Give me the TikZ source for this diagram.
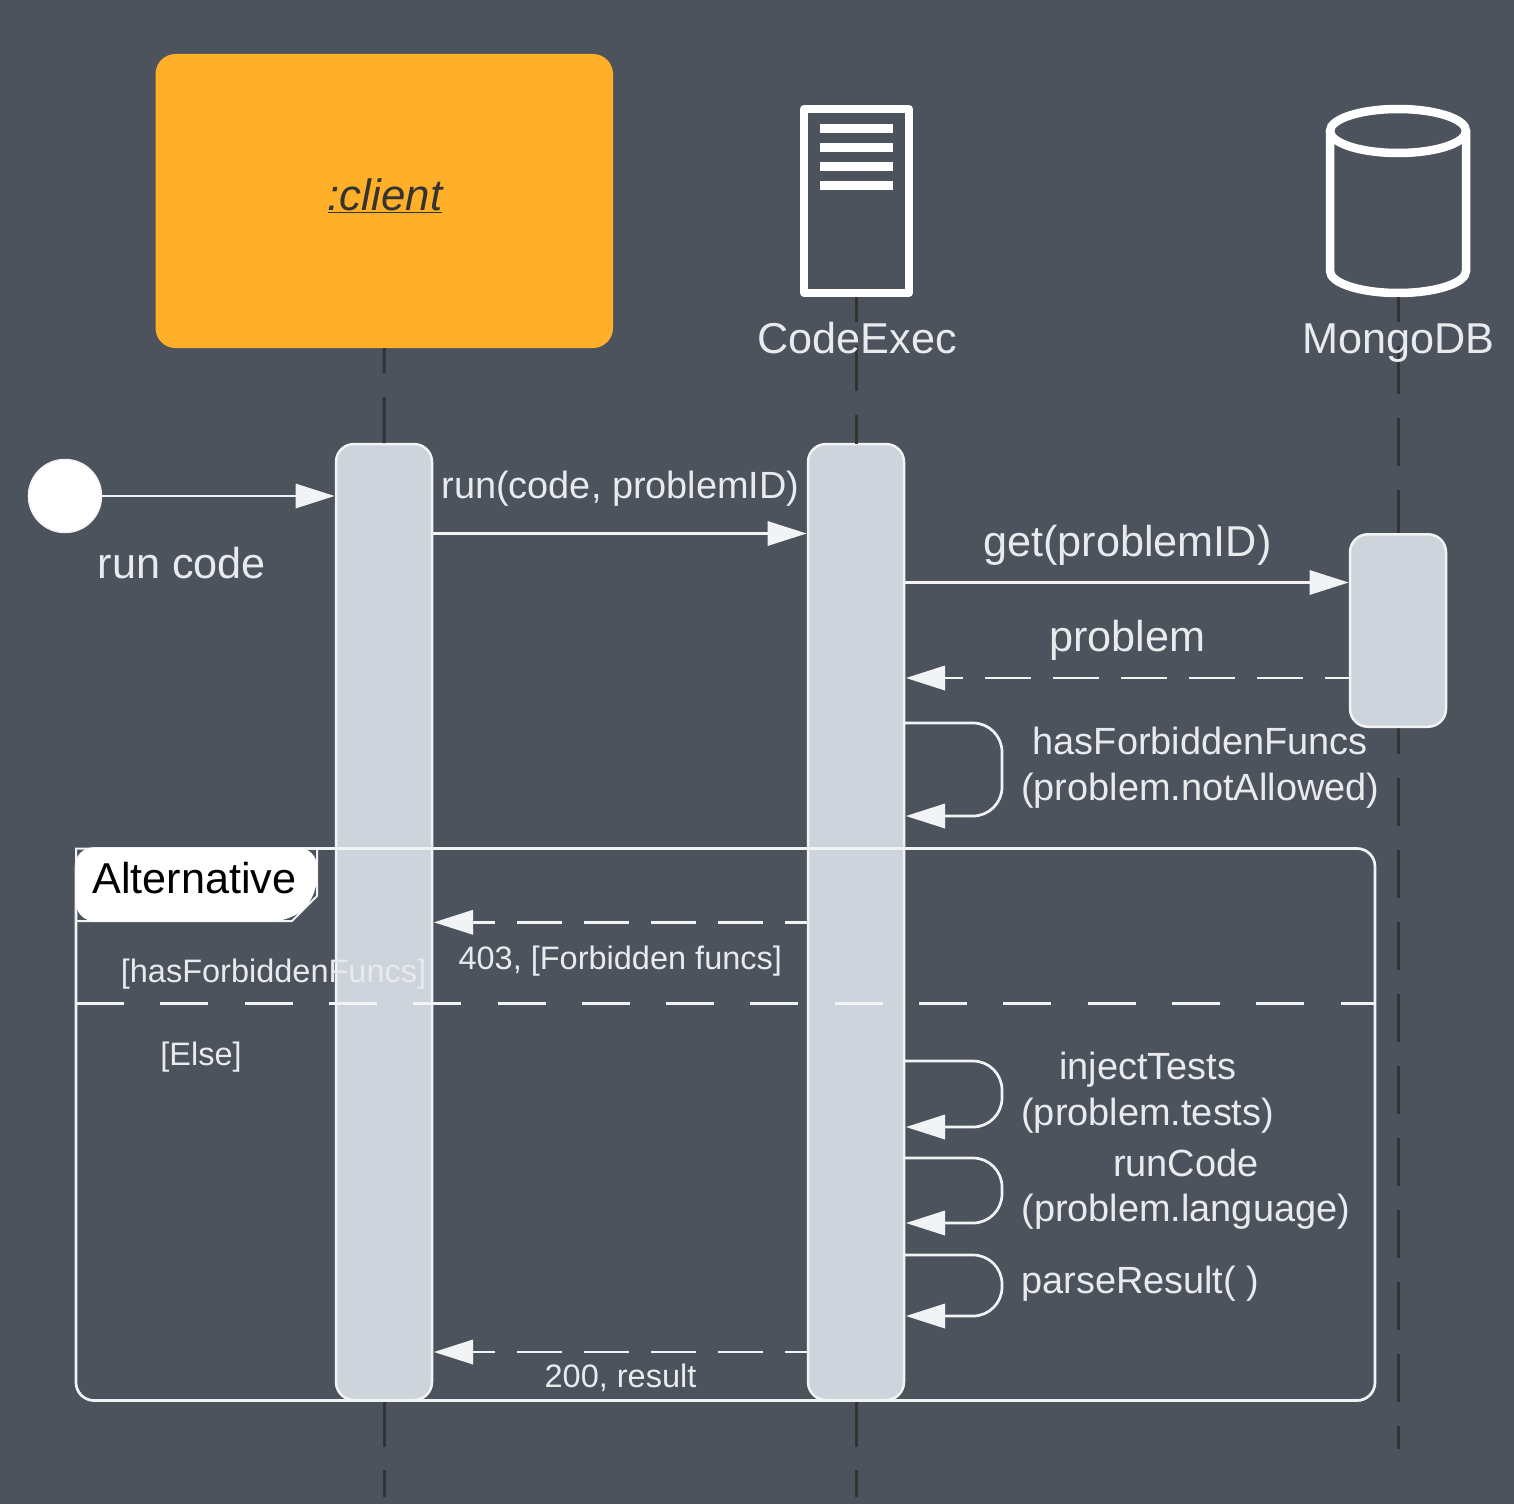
\documentclass[tikz,border=0pt]{standalone}
\usepackage{fontspec}
\setmainfont{Liberation Sans}
\usetikzlibrary{arrows.meta}
\definecolor{bg}{HTML}{4C535D}
\definecolor{orangebox}{HTML}{FFAF28}
\definecolor{actfill}{HTML}{CED4DB}
\definecolor{wireline}{HTML}{F2F3F5}
\definecolor{lifedark}{HTML}{333333}
\definecolor{labeltext}{HTML}{E8EAED}
\tikzset{
  every node/.style={inner sep=0pt,outer sep=0pt},
  actbox/.style={draw=wireline,line width=2.5pt,fill=actfill,rounded corners=18pt,minimum width=96pt},
  lifeline/.style={draw=lifedark,line width=3pt},
  msg/.style={draw=wireline,line width=2.7pt,-{Triangle[length=39pt,width=25pt,line width=0pt]}},
  msgright/.style={msg,shorten >=1.5pt},
  msgleft/.style={msg,shorten >=2pt},
  retmsg/.style={msgleft,dash pattern=on 45pt off 22pt,dash phase=22pt},
  loopmsg/.style={msgleft,rounded corners=29pt},
  icon/.style={draw=white,line width=8pt},
  bar/.style={fill=white,minimum width=73pt,minimum height=9pt},
  big/.style={text=labeltext,anchor=base,font=\fontsize{43.2}{50}\selectfont},
  mid/.style={text=labeltext,anchor=base,font=\fontsize{37.9}{45.5}\selectfont},
  small/.style={text=labeltext,anchor=base,font=\fontsize{32.5}{39}\selectfont},
}
\begin{document}
\begin{tikzpicture}[x=1pt,y=-1pt]
\useasboundingbox (0,0) rectangle (1514,1504);
\fill[bg] (0,0) rectangle (1514,1504);

% heads
\node[fill=orangebox,rounded corners=20pt,minimum width=457.5pt,minimum height=294pt] (client) at (384.25,201) {};
\node[anchor=base,text=lifedark,font=\fontsize{43.8}{50}\selectfont\itshape] (tClient) at (385,210) {\underline{:client}};
\coordinate (srvTL) at (804,109);
\coordinate (srvBR) at (909,293);
\draw[icon,line join=round] (srvTL) rectangle (srvBR);
\node[bar] (bar1) at (856.5,128) {};
\node[bar] (bar2) at (856.5,147.5) {};
\node[bar] (bar3) at (856.5,166.5) {};
\node[bar] (bar4) at (856.5,185.5) {};
\coordinate (codeexecBottom) at (856,297);
\draw[icon,line width=8.5pt] (1398,131) ellipse [x radius=68,y radius=22];
\draw[icon,line width=8.5pt] (1330,131) -- (1330,271) arc [start angle=180,end angle=0,x radius=68,y radius=22] -- (1466,131);
\coordinate (mongoBottom) at (1398,297);

% lifeline of MongoDB runs behind its activation
\coordinate (endC) at (1398,1449);
\draw[lifeline,dash pattern=on 48pt off 24pt,dash phase=23pt] (mongoBottom) -- (endC);

% activations
\node[actbox,minimum height=956pt] (actA) at (384,922) {};
\node[actbox,minimum height=956pt] (actB) at (856,922) {};
\node[actbox,minimum height=192.5pt] (actC) at (1398,630.5) {};

% lifelines
\coordinate (endA) at (384,1497);
\coordinate (endB) at (856,1497);
\draw[lifeline,dash pattern=on 46pt off 24pt,dash phase=21pt] (client.south) -- (actA.north);
\draw[lifeline,dash pattern=on 47pt off 23pt] (actA.south) -- (endA);
\draw[lifeline,dash pattern=on 45pt off 24pt,dash phase=20pt] (codeexecBottom) -- (actB.north);
\draw[lifeline,dash pattern=on 47pt off 23pt] (actB.south) -- (endB);

% frame
\draw[wireline,line width=2.7pt,rounded corners=18pt] (76,848.5) rectangle (1375,1400.5);
\coordinate (sepL) at (76,1003.3);
\coordinate (sepR) at (1375,1003.3);
\draw[wireline,line width=2.7pt,dash pattern=on 48pt off 36.3pt] (sepL) -- (sepR);
\draw[wireline,line width=2pt] (76,848.5) -- (317,848.5) -- (317,896) -- (292,921) -- (76,921) -- cycle;
\fill[white,rounded corners=18pt] (76,848) -- (317,848) -- (317,896) -- (292,921) -- (76,921) -- cycle;
\node[anchor=base,text=black,font=\fontsize{43.2}{50}\selectfont] (altlabel) at (194.5,893) {Alternative};

% start
\node[circle,fill=white,draw=wireline,line width=1.5pt,minimum size=73pt] (start) at (65,496) {};

% messages
\draw[msgright] (start.east) -- (actA.west |- start.east);
\coordinate (yRun) at (0,533.5);
\coordinate (yGet) at (0,582.5);
\coordinate (yProb) at (0,678);
\coordinate (y403) at (0,922.3);
\coordinate (y200) at (0,1352);
\draw[msgright] (actA.east |- yRun) -- (actB.west |- yRun);
\draw[msgright] (actB.east |- yGet) -- (actC.west |- yGet);
\draw[msgleft,dash pattern=on 46pt off 22pt,dash phase=21pt] (actC.west |- yProb) -- (actB.east |- yProb);
\draw[retmsg] (actB.west |- y403) -- (actA.east |- y403);
\draw[retmsg] (actB.west |- y200) -- (actA.east |- y200);
\coordinate (l1t) at (0,723);\coordinate (l1b) at (0,816);
\coordinate (l2t) at (0,1061);\coordinate (l2b) at (0,1127);
\coordinate (l3t) at (0,1158);\coordinate (l3b) at (0,1223);
\coordinate (l4t) at (0,1255);\coordinate (l4b) at (0,1316);
\coordinate (loopX) at (1002,0);
\draw[loopmsg] (actB.east |- l1t) -- (loopX |- l1t) -- (loopX |- l1b) -- (actB.east |- l1b);
\draw[loopmsg] (actB.east |- l2t) -- (loopX |- l2t) -- (loopX |- l2b) -- (actB.east |- l2b);
\draw[loopmsg] (actB.east |- l3t) -- (loopX |- l3t) -- (loopX |- l3b) -- (actB.east |- l3b);
\draw[loopmsg] (actB.east |- l4t) -- (loopX |- l4t) -- (loopX |- l4b) -- (actB.east |- l4b);

% labels
\node[big] (tCode) at (857,353.5) {CodeExec};
\node[big] (tMongo) at (1398.5,353.5) {MongoDB};
\node[big] (tRunCode) at (182,578) {run code};
\node[mid] (tRun) at (620.5,498) {run(code, problemID)};
\node[big] (tGet) at (1127.5,556) {get(problemID)};
\node[big] (tProb) at (1127.5,651) {problem};
\node[mid] (tHas1) at (1200.3,754) {hasForbiddenFuncs};
\node[mid] (tHas2) at (1200.3,800) {(problem.notAllowed)};
\node[small] (t403) at (620.3,969.5) {403, [Forbidden funcs]};
\node[small] (tGuard) at (273.5,982) {[hasForbiddenFuncs]};
\node[small] (tElse) at (201,1065.5) {[Else]};
\node[mid] (tInj1) at (1147.7,1079) {injectTests};
\node[mid] (tInj2) at (1147.7,1125) {(problem.tests)};
\node[mid] (tRc1) at (1185.7,1176) {runCode};
\node[mid] (tRc2) at (1185.7,1221.5) {(problem.language)};
\node[mid] (tParse) at (1140.3,1293) {parseResult( )};
\node[small] (t200) at (620.5,1387.5) {200, result};
\end{tikzpicture}
\end{document}
